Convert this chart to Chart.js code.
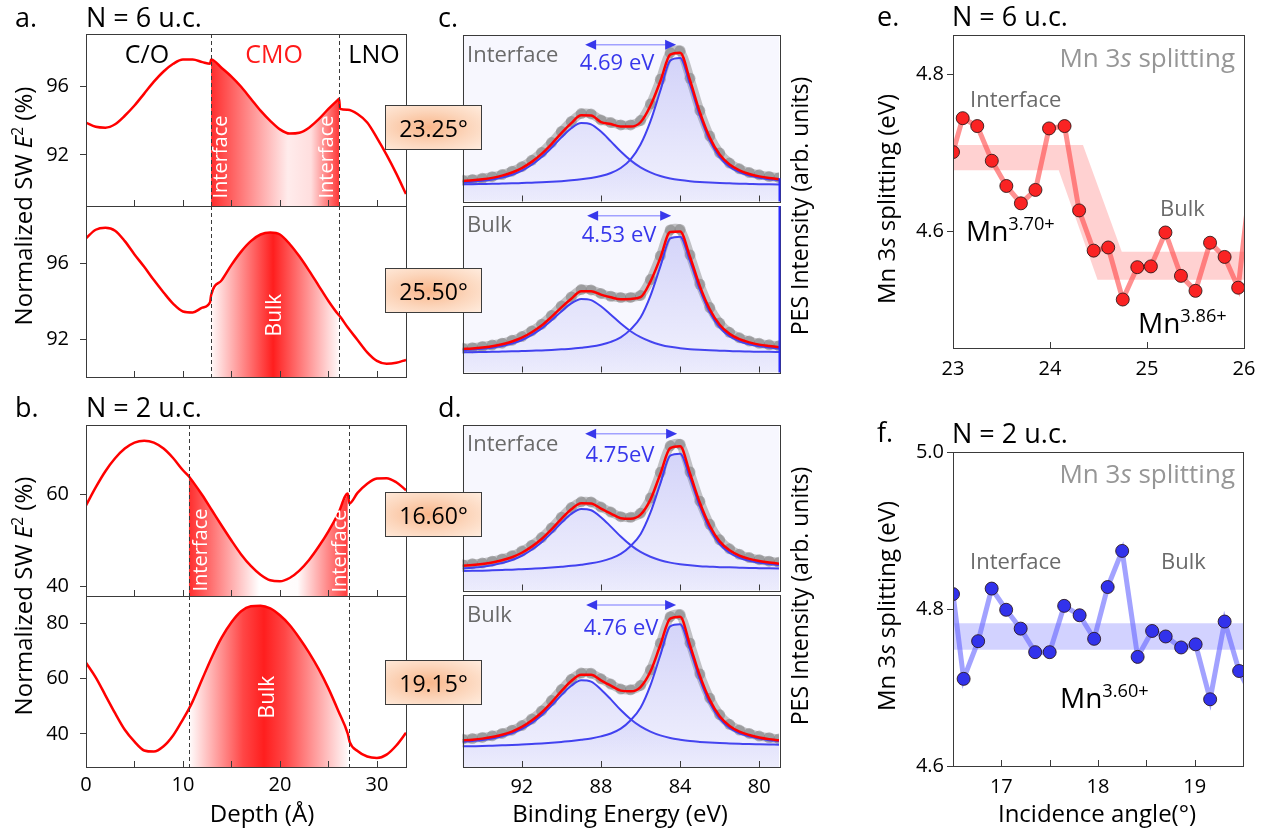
<!DOCTYPE html>
<html>
<head>
<meta charset="utf-8">
<script src="https://cdn.jsdelivr.net/npm/chart.js@4.4.0/dist/chart.umd.min.js"></script>
<style>
  body { margin: 0; background: #fff; }
  #fig { position: relative; width: 1270px; height: 834px; overflow: hidden; font-family: "Open Sans", sans-serif; }
  #fig canvas { position: absolute; }
  .t { position: absolute; white-space: nowrap; line-height: 1; }
  .sup { font-size: 0.65em; position: relative; top: -0.6em; }
  .box { position: absolute; left: 385px; width: 97px; height: 45px; box-sizing: border-box;
         border: 1.5px solid #3c3c3c; display: flex; align-items: center; justify-content: center;
         font-size: 23px; color: #000;
         background: radial-gradient(ellipse at 45% 50%, rgb(249,182,138) 0%, rgb(252,214,188) 55%, rgb(255,236,222) 100%); }
</style>
</head>
<body>
<div id="fig"></div>
<script>
"use strict";

// ---- SW E^2 depth profiles (panels a, b)
const depthA1 = [0,1,2,3,4,5,6,7,8,9,10,11,12,12.8,12.9,14,15,16,17,18,19,20,21,22,23,24,25,26,26.1,26.2,27,28,29,30,31,32,33];
const swA1 = [93.9,93.65,93.6,93.8,94.3,94.9,95.6,96.3,96.9,97.35,97.6,97.6,97.45,97.35,97.6,97.1,96.6,96.0,95.3,94.6,94.0,93.5,93.25,93.3,93.6,94.1,94.7,95.25,95.3,94.7,94.65,94.4,93.9,93.0,92.0,90.9,89.7];

const depthA2 = [0,1,2,3,4,5,6,7,8,9,10,11,12,12.8,12.9,14,15,16,17,18,19,20,21,22,23,24,25,26,26.1,27,28,29,30,31,32,33];
const swA2 = [97.3,97.75,97.85,97.7,97.15,96.45,95.8,95.1,94.45,93.85,93.45,93.4,93.65,93.95,94.3,95.1,95.9,96.6,97.15,97.5,97.6,97.5,97.0,96.35,95.6,94.8,94.0,93.3,93.25,92.6,91.95,91.3,90.85,90.7,90.75,90.9];

const depthB1 = [0,1,2,3,4,5,6,7,8,9,10,10.6,11,12,13,14,15,16,17,18,19,20,21,22,23,24,25,26,27,27.15,28,29,30,31,32,33];
const swB1 = [57.6,61.5,65.0,67.8,69.9,71.2,71.6,71.2,69.9,67.8,65.2,63.9,62.8,59.8,56.5,53.2,50.0,47.0,44.5,42.6,41.4,41.2,41.9,43.5,45.8,48.7,52.0,55.8,60.2,58.0,60.3,62.3,63.4,63.5,62.6,60.9];

const depthB2 = [0,1,2,3,4,5,6,7,8,9,10,10.6,11,12,13,14,15,16,17,18,19,20,21,22,23,24,25,26,27,27.2,28,29,30,31,32,33];
const swB2 = [65.8,60.5,54.0,47.5,41.5,37.2,34.0,33.6,35.5,39.5,45.3,49.0,51.8,60.0,68.0,75.0,80.5,84.5,86.3,86.5,85.5,83.0,79.5,74.8,69.5,63.5,56.5,48.5,40.0,37.0,33.8,31.8,31.3,32.5,35.8,40.4];

// layer boundaries (Å)
const cmoA = [12.9, 26.1];
const cmoB = [10.6, 27.1];

// tick values
const depthTicks = [0,5,10,15,20,25,30];
const swTicksA = [92, 96];
const swTicksB1 = [40, 60];
const swTicksB2 = [40, 60, 80];
const energyTicks = [80, 84, 88, 92];
const angleTicksE = [23, 24, 25, 26];
const angleTicksF = [16.5, 17, 17.5, 18, 18.5, 19, 19.5];
const splitTicksE = [4.6, 4.8];
const splitTicksF = [4.6, 4.8, 5.0];

// ---- Mn 3s PES spectra (panels c, d)
const energy = [95,94.5,94,93.5,93,92.5,92,91.5,91,90.5,90,89.5,89,88.5,88,87.5,87,86.5,86,85.5,85,84.5,84,83.5,83,82.5,82,81.5,81,80.5,80,79.5,79];

const cIntPeak1 = [10.4,10.4,10.5,10.6,10.75,10.9,11.1,11.3,11.5,11.8,12.2,12.7,13.3,14.1,15.3,17.1,20.1,25.3,34.2,48.1,66.5,84.6,86.2,70.3,51.5,36.6,26.7,20.9,17.6,15.6,14.3,13.4,12.8];
const cIntPeak2 = [11.5,11.9,12.4,13.2,14.4,16.1,18.6,22.1,26.7,32.3,38.5,44.0,47.1,46.3,42.0,36.1,30.0,24.7,20.5,17.5,15.3,13.85,12.9,12.2,11.7,11.35,11.1,10.9,10.7,10.55,10.4,10.3,10.2];
const cIntFit = [12.3,12.7,13.3,14.2,15.55,17.4,20.1,23.8,28.6,34.5,41.1,47.1,51.8,51.6,47.7,46.5,45.0,45.0,47.6,57.5,72.2,88.2,89.4,72.9,53.6,38.35,28.2,22.2,18.7,16.55,15.1,14.1,13.4];
const cIntData = [12.8,13.2,13.9,14.9,16.2,18.2,20.9,24.7,29.5,35.4,42.1,48.1,52.8,52.6,49.0,47.4,46.0,46.0,48.6,58.6,73.4,89.4,90.6,74.0,54.6,39.3,29.2,23.1,19.6,17.4,16.0,15.0,14.3];

const cBulkPeak1 = [12.2,12.2,12.3,12.4,12.55,12.7,12.9,13.1,13.2,13.5,13.9,14.3,14.9,15.6,16.7,18.4,21.1,25.9,33.0,46.0,63.6,80.5,81.6,67.0,49.8,36.2,27.1,21.8,18.8,17.0,15.8,15.0,14.4];
const cBulkPeak2 = [13.4,13.75,14.2,14.9,15.9,17.4,19.5,22.6,26.5,31.4,36.7,41.5,44.2,43.5,39.8,34.7,29.4,24.8,21.2,18.6,16.7,15.4,14.6,14.0,13.6,13.3,13.1,12.9,12.7,12.6,12.45,12.4,12.3];
const cBulkFit = [14.1,14.45,15.0,15.8,16.95,18.6,20.9,24.2,28.2,33.4,39.1,44.3,48.8,48.8,46.8,45.2,44.0,44.2,45.2,54.6,68.8,84.4,84.7,69.5,51.9,38.0,28.7,23.2,20.0,18.1,16.75,15.9,15.2];
const cBulkData = [14.6,14.9,15.6,16.5,17.6,19.3,21.6,25.0,29.0,34.3,40.0,45.4,49.8,49.6,47.5,45.8,45.0,45.1,46.3,55.8,70.0,85.6,85.9,70.6,53.0,39.0,29.7,24.1,20.8,18.9,17.5,16.6,16.0];

const dIntPeak1 = [11.8,11.9,12.0,12.2,12.4,12.6,12.9,13.2,13.5,13.9,14.4,14.9,15.6,16.4,17.6,19.4,22.1,26.9,34.0,47.0,64.6,81.5,82.7,68.0,50.8,37.2,28.1,22.8,19.8,18.0,16.8,16.0,15.4];
const dIntPeak2 = [13.3,13.8,14.4,15.3,16.6,18.4,21.0,24.6,29.2,34.8,40.9,46.3,49.3,48.5,44.3,38.6,32.6,27.4,23.3,20.4,18.3,16.85,15.9,15.2,14.7,14.4,14.1,14.0,13.8,13.6,13.5,13.4,13.3];
const dIntFit = [15.0,15.4,16.0,16.9,18.3,20.1,22.8,26.5,31.1,36.9,43.3,49.1,52.7,52.6,49.5,46.5,43.7,43.3,45.8,54.9,70.4,86.0,87.2,70.7,53.0,39.1,29.7,24.3,21.1,19.1,17.8,16.9,16.2];
const dIntData = [15.6,16.1,16.6,17.7,19.1,21.0,23.8,27.4,32.0,37.8,44.3,50.1,53.6,53.5,50.4,47.4,44.6,44.2,46.7,55.9,71.4,87.4,88.4,71.6,54.0,40.0,30.6,25.2,21.9,19.9,18.6,17.7,17.0];

const dBulkPeak1 = [12.0,12.1,12.2,12.4,12.6,12.8,13.1,13.4,13.7,14.1,14.6,15.1,15.8,16.6,17.8,19.5,22.3,27.2,34.4,47.4,65.0,81.8,83.0,68.3,51.0,37.3,28.1,22.7,19.6,17.8,16.5,15.6,15.0];
const dBulkPeak2 = [14.6,15.1,15.7,16.6,17.9,19.6,22.1,25.6,30.1,35.7,41.8,47.2,50.4,49.6,45.1,39.3,33.1,27.8,23.6,20.6,18.4,16.9,15.9,15.1,14.6,14.2,13.9,13.7,13.5,13.3,13.2,13.1,13.0];
const dBulkFit = [15.5,15.9,16.5,17.4,18.75,20.6,23.3,27.0,31.7,37.6,44.1,50.0,53.6,53.6,50.4,47.3,44.4,44.0,46.5,55.5,70.9,86.3,87.4,70.9,53.1,39.0,29.5,23.9,20.6,18.6,17.2,16.2,15.5];
const dBulkData = [16.2,16.5,17.2,18.1,19.5,21.4,24.1,27.9,32.6,38.6,45.0,51.0,54.6,54.5,51.3,48.2,45.3,44.9,47.4,56.5,72.0,87.4,88.6,72.0,54.0,40.0,30.4,24.8,21.5,19.5,18.0,17.0,16.3];

// splitting arrows: [from eV, to eV, height]
const arrowCI = [88.8, 84.2, 94.2];
const arrowCB = [88.7, 84.45, 94.2];
const arrowDI = [88.8, 84.15, 94.7];
const arrowDB = [88.75, 84.2, 94.2];

// ---- Mn 3s splitting vs incidence angle (panels e, f)
const angleE = [23.00,23.10,23.25,23.40,23.55,23.70,23.85,23.99,24.15,24.30,24.45,24.60,24.75,24.90,25.04,25.19,25.35,25.50,25.65,25.80,25.94,26.09];
const splitE = [4.701,4.744,4.734,4.690,4.658,4.636,4.653,4.731,4.734,4.627,4.576,4.580,4.514,4.555,4.556,4.599,4.544,4.525,4.586,4.568,4.529,4.690];
const bandEx_hi = [23, 24.34, 24.74, 26];
const bandEy_hi = [4.710, 4.710, 4.5745, 4.5745];
const bandEx_lo = [23, 24.09, 24.49, 26];
const bandEy_lo = [4.678, 4.678, 4.539, 4.539];

const angleF = [16.50,16.61,16.76,16.90,17.05,17.20,17.35,17.50,17.65,17.81,17.96,18.10,18.25,18.41,18.56,18.70,18.86,19.01,19.16,19.31,19.46,19.61];
const splitF = [4.819,4.711,4.759,4.826,4.799,4.775,4.745,4.745,4.804,4.792,4.762,4.828,4.874,4.739,4.772,4.765,4.751,4.755,4.685,4.784,4.721,4.685];
const bandFx = [16.5, 19.5];
const bandFy_hi = [4.782, 4.782];
const bandFy_lo = [4.748, 4.748];

// ---------------------------------------------------------------
const fig = document.getElementById('fig');
const FONT = "'Open Sans', sans-serif";
Chart.defaults.font.family = FONT;
Chart.defaults.color = '#000';
const PAD_T = 14, PAD_R = 14;

const pts = (xs, ys) => xs.map((x, i) => ({ x: x, y: ys[i] }));
const fixTicks = vals => (s => { s.ticks = vals.map(v => ({ value: v })); });

// frame, inner x ticks, dashed boundaries, splitting arrow
const panelPlugin = {
  id: 'panel',
  beforeDatasetsDraw(ch, args, o) {
    if (!o.bg) return;
    const a = ch.chartArea, c = ch.ctx;
    c.save();
    c.fillStyle = o.bg;
    c.fillRect(a.left, a.top, a.right - a.left, a.bottom - a.top);
    c.restore();
  },
  afterDatasetsDraw(ch, args, o) {
    const a = ch.chartArea, c = ch.ctx, xs = ch.scales.x, ys = ch.scales.y;
    c.save();
    c.strokeStyle = '#3a3a3a';
    c.lineWidth = 1;
    if (o.vlines) {
      c.setLineDash([4, 3]);
      o.vlines.forEach(v => {
        const x = Math.round(xs.getPixelForValue(v)) + 0.5;
        c.beginPath(); c.moveTo(x, a.top); c.lineTo(x, a.bottom); c.stroke();
      });
      c.setLineDash([]);
    }
    xs.ticks.forEach(t => {
      const x = Math.round(xs.getPixelForValue(t.value)) + 0.5;
      c.beginPath(); c.moveTo(x, a.bottom); c.lineTo(x, a.bottom - 6); c.stroke();
    });
    c.strokeRect(Math.round(a.left) + 0.5, Math.round(a.top) + 0.5,
                 Math.round(a.right - a.left), Math.round(a.bottom - a.top));
    if (o.blueEdge != null) {
      c.strokeStyle = 'rgb(40,40,255)';
      c.lineWidth = 2;
      const x = Math.round(a.right) + 0.5;
      c.beginPath(); c.moveTo(x, ys.getPixelForValue(o.blueEdge)); c.lineTo(x, a.bottom); c.stroke();
    }
    if (o.arrow) {
      const y = ys.getPixelForValue(o.arrow[2]);
      const x1 = xs.getPixelForValue(o.arrow[0]), x2 = xs.getPixelForValue(o.arrow[1]);
      c.strokeStyle = 'rgba(150,150,255,0.9)';
      c.lineWidth = 1.5;
      c.beginPath(); c.moveTo(x1 + 8, y); c.lineTo(x2 - 8, y); c.stroke();
      c.fillStyle = 'rgb(55,55,235)';
      c.beginPath(); c.moveTo(x1, y); c.lineTo(x1 + 11, y - 5); c.lineTo(x1 + 11, y + 5); c.closePath(); c.fill();
      c.beginPath(); c.moveTo(x2, y); c.lineTo(x2 - 11, y - 5); c.lineTo(x2 - 11, y + 5); c.closePath(); c.fill();
    }
    c.restore();
  }
};

function addChart(box, padL, padB, cfg) {
  const cv = document.createElement('canvas');
  const W = box.w + padL + PAD_R, H = box.h + PAD_T + padB;
  cv.width = W; cv.height = H;
  cv.style.left = (box.x - padL) + 'px';
  cv.style.top = (box.y - PAD_T) + 'px';
  cv.style.width = W + 'px';
  cv.style.height = H + 'px';
  fig.appendChild(cv);
  const o = cfg.options;
  o.responsive = false;
  o.animation = false;
  o.events = [];
  o.layout = { padding: { top: PAD_T, right: PAD_R, left: 0, bottom: 0 } };
  // fixed axis sizes so the plot area lands exactly on the box
  const noPad = s => { s.paddingTop = 0; s.paddingBottom = 0; s.paddingLeft = 0; s.paddingRight = 0; };
  o.scales.x.afterFit = s => { s.height = padB; noPad(s); };
  o.scales.y.afterFit = s => { s.width = padL; noPad(s); };
  o.plugins = Object.assign({ legend: { display: false }, tooltip: { enabled: false } }, o.plugins);
  cfg.plugins = [panelPlugin];
  return new Chart(cv, cfg);
}

function hGradient(ch, lo, hi, stops) {
  const xs = ch.scales.x;
  if (!ch.chartArea || !xs) return 'rgba(255,0,0,0.5)';
  const g = ch.ctx.createLinearGradient(xs.getPixelForValue(lo), 0, xs.getPixelForValue(hi), 0);
  stops.forEach(s => g.addColorStop(s[0], s[1]));
  return g;
}

// ---- left column: SW profiles
function swPanel(box, depth, sw, yMin, yMax, yTicks, bounds, stops, showX) {
  const fillPts = pts(depth, sw).filter(p => p.x >= bounds[0] - 1e-6 && p.x <= bounds[1] + 1e-6);
  addChart(box, 60, showX ? 50 : 1, {
    type: 'line',
    data: {
      datasets: [
        { data: pts(depth, sw), borderColor: '#ff0000', borderWidth: 2.5, pointRadius: 0,
          cubicInterpolationMode: 'monotone', fill: false },
        { data: fillPts, borderWidth: 0, pointRadius: 0, cubicInterpolationMode: 'monotone',
          fill: 'start', backgroundColor: ctx => hGradient(ctx.chart, bounds[0], bounds[1], stops) }
      ]
    },
    options: {
      scales: {
        x: { type: 'linear', min: 0, max: 33, afterBuildTicks: fixTicks(depthTicks),
             ticks: { display: showX, autoSkip: false, maxRotation: 0,
                      padding: 6, font: { size: 20 }, color: '#000',
                      callback: v => (v % 10 === 0 ? v : '') },
             grid: { display: false, drawTicks: false }, border: { display: false } },
        y: { min: yMin, max: yMax, afterBuildTicks: fixTicks(yTicks),
             ticks: { padding: 11, font: { size: 20 }, color: '#000' },
             grid: { drawOnChartArea: false, tickLength: 6, color: '#3a3a3a' }, border: { display: false } }
      },
      plugins: { panel: { vlines: bounds } }
    }
  });
}

const stopsIntA = [[0, 'rgb(255,45,45)'], [0.6, 'rgb(255,236,236)'], [0.78, 'rgb(255,222,222)'], [1, 'rgb(255,55,55)']];
const stopsBulkA = [[0, 'rgb(255,250,250)'], [0.485, 'rgb(255,30,30)'], [1, 'rgb(255,250,250)']];
const stopsIntB = [[0, 'rgb(255,45,45)'], [0.44, 'rgb(255,255,255)'], [0.68, 'rgb(255,252,252)'], [1, 'rgb(255,55,55)']];
const stopsBulkB = [[0, 'rgb(255,255,255)'], [0.34, 'rgb(255,70,70)'], [0.47, 'rgb(255,30,30)'], [0.6, 'rgb(255,70,70)'], [1, 'rgb(255,252,252)']];

swPanel({ x: 86, y: 34, w: 320, h: 172 }, depthA1, swA1, 89, 99.1, swTicksA, cmoA, stopsIntA, false);
swPanel({ x: 86, y: 206, w: 320, h: 171 }, depthA2, swA2, 90, 99, swTicksA, cmoA, stopsBulkA, false);
swPanel({ x: 86, y: 425, w: 320, h: 171 }, depthB1, swB1, 38, 75, swTicksB1, cmoB, stopsIntB, false);
swPanel({ x: 86, y: 596, w: 320, h: 171 }, depthB2, swB2, 28, 90, swTicksB2, cmoB, stopsBulkB, true);

// ---- middle column: PES spectra
function vGradient(ch) {
  const a = ch.chartArea;
  if (!a) return 'rgba(110,110,230,0.15)';
  const g = ch.ctx.createLinearGradient(0, a.top, 0, a.bottom);
  g.addColorStop(0, 'rgba(110,110,235,0.30)');
  g.addColorStop(1, 'rgba(110,110,235,0.04)');
  return g;
}

function pesPanel(box, fit, p1, p2, meas, arrow, showX, blueEdge) {
  const comp = d => ({ data: pts(energy, d), borderColor: 'rgb(65,65,240)', borderWidth: 2, pointRadius: 0,
                       cubicInterpolationMode: 'monotone', fill: 'start', backgroundColor: ctx => vGradient(ctx.chart) });
  addChart(box, 2, showX ? 50 : 1, {
    type: 'line',
    data: {
      datasets: [
        { data: pts(energy, fit), borderColor: '#ff0000', borderWidth: 2.5, pointRadius: 0,
          cubicInterpolationMode: 'monotone', fill: false },
        comp(p1),
        comp(p2),
        { data: pts(energy, meas), borderColor: 'rgba(140,140,140,0.5)', borderWidth: 9, tension: 0.3,
          pointRadius: 5.5, pointBackgroundColor: 'rgba(110,110,110,0.45)', pointBorderWidth: 0, fill: false }
      ]
    },
    options: {
      scales: {
        x: { type: 'linear', min: 79, max: 95, reverse: true, afterBuildTicks: fixTicks(energyTicks),
             ticks: { display: showX, autoSkip: false, maxRotation: 0,
                      padding: 8, font: { size: 20 }, color: '#000' },
             grid: { display: false, drawTicks: false }, border: { display: false } },
        y: { min: 0, max: 100, ticks: { display: false }, grid: { display: false }, border: { display: false } }
      },
      plugins: { panel: { bg: 'rgb(247,247,254)', arrow: arrow, blueEdge: blueEdge } }
    }
  });
}

pesPanel({ x: 459, y: 35, w: 320, h: 171 }, cIntFit, cIntPeak1, cIntPeak2, cIntData, arrowCI, false, 14);
pesPanel({ x: 459, y: 206, w: 320, h: 171 }, cBulkFit, cBulkPeak1, cBulkPeak2, cBulkData, arrowCB, false, 100);
pesPanel({ x: 459, y: 425, w: 320, h: 170 }, dIntFit, dIntPeak1, dIntPeak2, dIntData, arrowDI, false, null);
pesPanel({ x: 459, y: 595, w: 320, h: 172 }, dBulkFit, dBulkPeak1, dBulkPeak2, dBulkData, arrowDB, true, null);

// ---- right column: splitting vs angle
function splitPanel(box, padB, ang, spl, xMin, xMax, xTicks, yMin, yMax, yTicks, bandHi, bandLo, col) {
  addChart(box, 75, padB, {
    type: 'line',
    data: {
      datasets: [
        { data: pts(ang, spl), borderColor: col.line, borderWidth: 5, pointRadius: 6.5,
          pointBackgroundColor: col.dot, pointBorderColor: 'rgba(40,20,20,0.85)', pointBorderWidth: 1,
          tension: 0, fill: false, clip: 0 },
        { data: bandHi, borderWidth: 0, pointRadius: 0, tension: 0, fill: '+1', backgroundColor: col.band },
        { data: bandLo, borderWidth: 0, pointRadius: 0, tension: 0, fill: false }
      ]
    },
    options: {
      scales: {
        x: { type: 'linear', min: xMin, max: xMax, afterBuildTicks: fixTicks(xTicks),
             ticks: { autoSkip: false, maxRotation: 0, padding: 9, font: { size: 20 }, color: '#000',
                      callback: v => (Number.isInteger(v) ? v : '') },
             grid: { display: false, drawTicks: false }, border: { display: false } },
        y: { min: yMin, max: yMax, afterBuildTicks: fixTicks(yTicks),
             ticks: { padding: 3, font: { size: 20 }, color: '#000', callback: v => v.toFixed(1) },
             grid: { drawOnChartArea: false, tickLength: 6, color: '#3a3a3a' }, border: { display: false } }
      },
      plugins: { panel: {} }
    }
  });
}

splitPanel({ x: 953, y: 35, w: 291, h: 313 }, 60, angleE, splitE, 23, 26, angleTicksE, 4.4525, 4.8495, splitTicksE,
  pts(bandEx_hi, bandEy_hi), pts(bandEx_lo, bandEy_lo),
  { line: 'rgba(255,70,70,0.6)', dot: 'rgb(250,35,35)', band: 'rgba(255,135,135,0.38)' });
splitPanel({ x: 953, y: 452, w: 290, h: 314 }, 50, angleF, splitF, 16.5, 19.5, angleTicksF, 4.6, 5.0, splitTicksF,
  pts(bandFx, bandFy_hi), pts(bandFx, bandFy_lo),
  { line: 'rgba(100,100,255,0.6)', dot: 'rgb(50,50,235)', band: 'rgba(125,125,255,0.35)' });

// ---- text overlays
function txt(html, x, y, size, o) {
  o = o || {};
  const d = document.createElement('div');
  d.className = 't';
  d.innerHTML = html;
  d.style.left = x + 'px';
  d.style.top = y + 'px';
  d.style.fontSize = size + 'px';
  d.style.color = o.color || '#000';
  const ax = o.align === 'l' ? '0' : (o.align === 'r' ? '-100%' : '-50%');
  d.style.transform = 'translate(' + ax + ',-50%)' + (o.rot ? ' rotate(-90deg)' : '');
  fig.appendChild(d);
}

// panel letters and titles
txt('a.', 15, 16, 27, { align: 'l' });
txt('N = 6 u.c.', 86, 16, 27, { align: 'l' });
txt('b.', 15, 406, 27, { align: 'l' });
txt('N = 2 u.c.', 86, 406, 27, { align: 'l' });
txt('c.', 438, 16, 27, { align: 'l' });
txt('d.', 438, 406, 27, { align: 'l' });
txt('e.', 877, 15, 27, { align: 'l' });
txt('N = 6 u.c.', 952, 15, 27, { align: 'l' });
txt('f.', 877, 431, 27, { align: 'l' });
txt('N = 2 u.c.', 952, 432, 27, { align: 'l' });

// layer names
txt('C/O', 147, 53, 25);
txt('CMO', 274, 53, 25, { color: '#ff1a1a' });
txt('LNO', 374, 53, 25);

// white labels inside the CMO layer
txt('Interface', 220, 157, 20, { color: '#fff', rot: true });
txt('Interface', 326, 157, 20, { color: '#fff', rot: true });
txt('Bulk', 273, 315, 21, { color: '#fff', rot: true });
txt('Interface', 200, 550, 20, { color: '#fff', rot: true });
txt('Interface', 339, 551, 20, { color: '#fff', rot: true });
txt('Bulk', 266, 697, 21, { color: '#fff', rot: true });

// axis titles
const swTitle = 'Normalized SW <i>E</i><span class="sup">2</span> (%)';
txt(swTitle, 23, 206, 24, { rot: true });
txt(swTitle, 23, 596, 24, { rot: true });
txt('Depth (Å)', 262, 813, 24);
txt('PES Intensity (arb. units)', 799, 206, 23, { rot: true });
txt('PES Intensity (arb. units)', 799, 596, 23, { rot: true });
txt('Binding Energy (eV)', 620, 813, 24);
const mnTitle = 'Mn 3<i>s</i> splitting (eV)';
txt(mnTitle, 886, 199, 24, { rot: true });
txt(mnTitle, 886, 606, 24, { rot: true });
txt('Incidence angle(°)', 1097, 813, 24);

// PES labels
const grey = '#6a6a6a';
txt('Interface', 467, 53, 22, { align: 'l', color: grey });
txt('Bulk', 467, 223, 22, { align: 'l', color: grey });
txt('Interface', 467, 442, 22, { align: 'l', color: grey });
txt('Bulk', 467, 613, 22, { align: 'l', color: grey });
const blue = 'rgb(55,55,235)';
txt('4.69 eV', 617, 61, 22, { color: blue });
txt('4.53 eV', 619, 233, 22, { color: blue });
txt('4.75eV', 620, 453, 22, { color: blue });
txt('4.76 eV', 621, 626, 22, { color: blue });

// right column labels
const lightGrey = 'rgb(150,150,150)';
txt('Mn 3<i>s</i> splitting', 1235, 57, 26, { align: 'r', color: lightGrey });
txt('Mn 3<i>s</i> splitting', 1235, 473, 26, { align: 'r', color: lightGrey });
txt('Interface', 970, 98, 22, { align: 'l', color: grey });
txt('Bulk', 1160, 207, 22, { align: 'l', color: grey });
txt('Interface', 970, 560, 22, { align: 'l', color: grey });
txt('Bulk', 1161, 560, 22, { align: 'l', color: grey });
txt('Mn<span class="sup">3.70+</span>', 966, 230, 28, { align: 'l' });
txt('Mn<span class="sup">3.86+</span>', 1138, 322, 28, { align: 'l' });
txt('Mn<span class="sup">3.60+</span>', 1060, 697, 28, { align: 'l' });

// incidence-angle boxes
[['23.25°', 105], ['25.50°', 268], ['16.60°', 492], ['19.15°', 660]].forEach(b => {
  const d = document.createElement('div');
  d.className = 'box';
  d.style.top = b[1] + 'px';
  d.textContent = b[0];
  fig.appendChild(d);
});
</script>
</body>
</html>
